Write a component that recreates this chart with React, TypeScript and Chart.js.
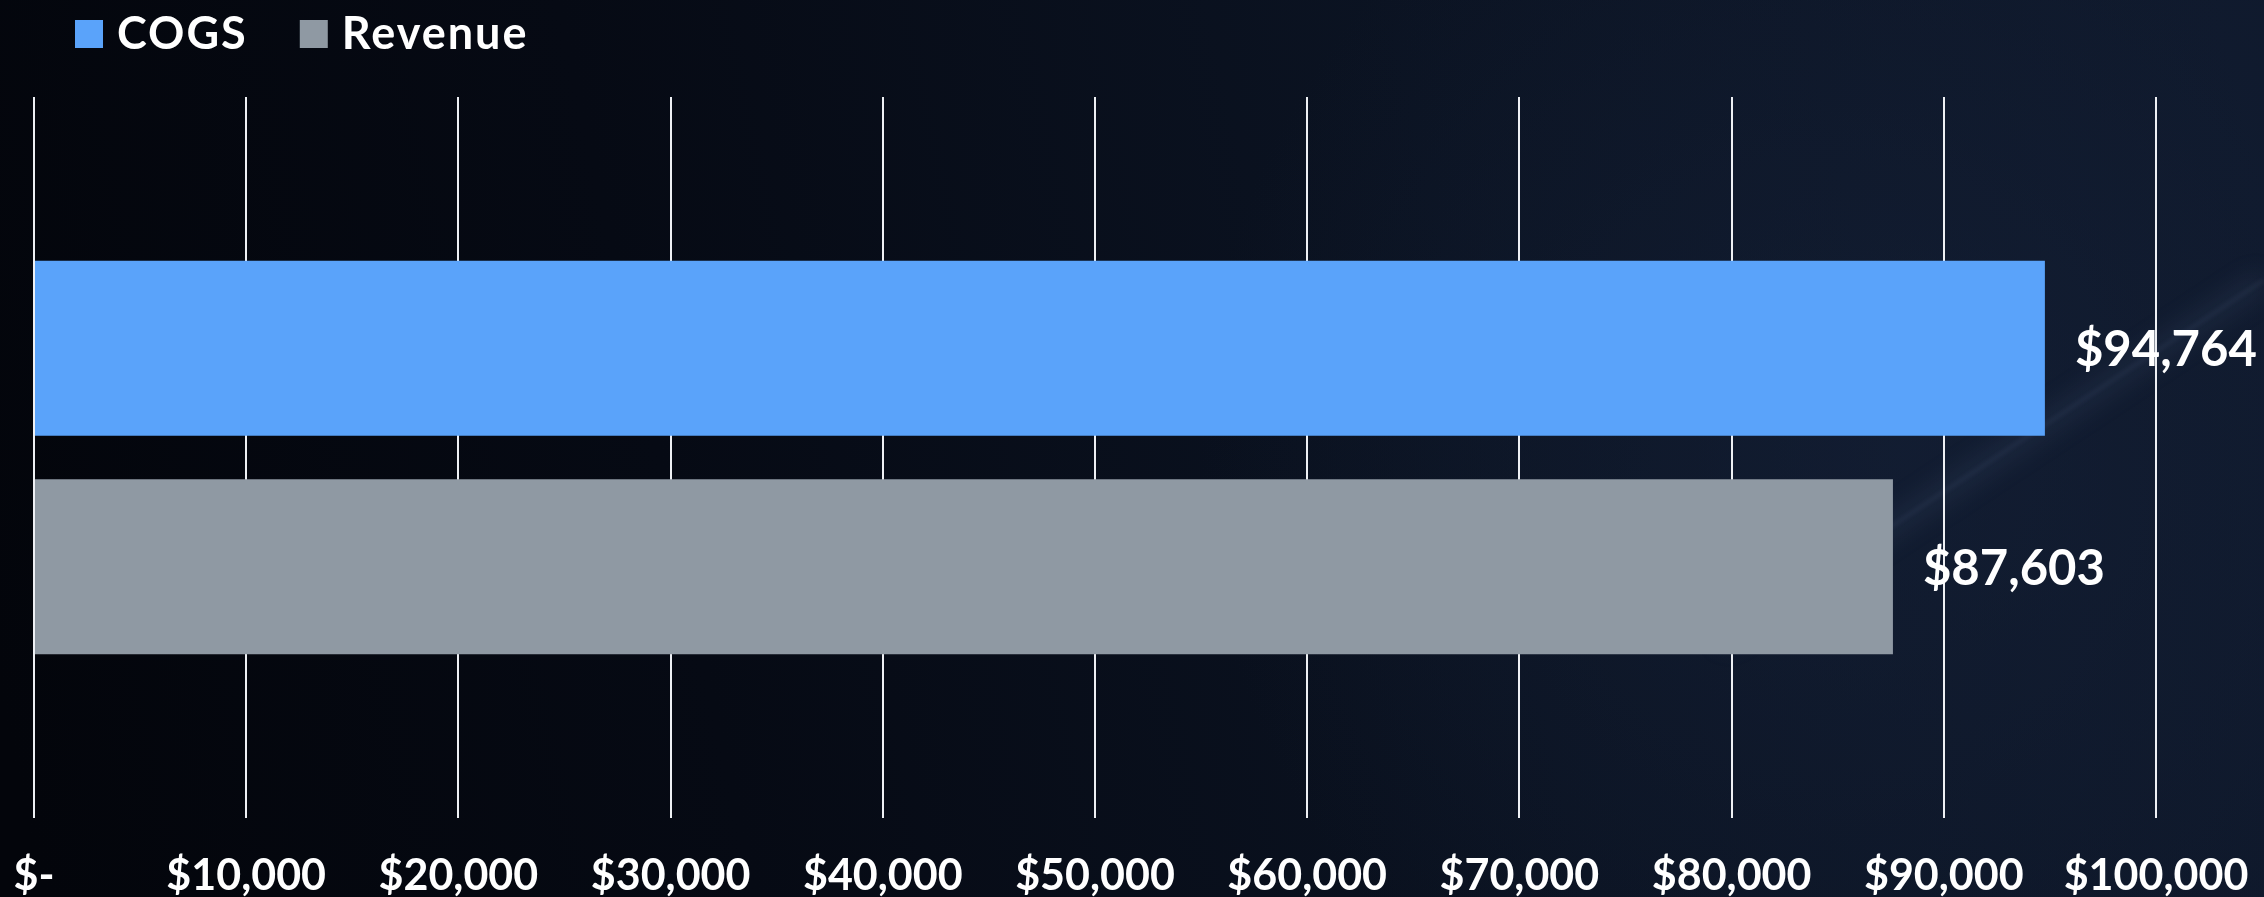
import React, { useEffect, useRef } from "react";
import { Chart, registerables } from "chart.js";

Chart.register(...registerables);

const categories = ["Total"];
const seriesNames = ["COGS", "Revenue"];
const cogsValues = [94764];
const revenueValues = [87603];
const seriesColors = ["#5aa3fa", "#8f99a3"];
const tickValues = [0, 10000, 20000, 30000, 40000, 50000, 60000, 70000, 80000, 90000, 100000];

const W = 2264;
const H = 897;
const FONT = "Lato, 'Open Sans', sans-serif";

function fmtMoney(v: number): string {
  if (v === 0) return "$-";
  return "$" + v.toLocaleString("en-US");
}

const backgroundPlugin = {
  id: "bg",
  beforeDraw(chart: any) {
    const ctx = chart.ctx as CanvasRenderingContext2D;
    ctx.save();
    const g = ctx.createLinearGradient(0, 700, W, 200);
    g.addColorStop(0, "#03050b");
    g.addColorStop(0.3, "#060a14");
    g.addColorStop(0.65, "#0b1322");
    g.addColorStop(1, "#0f192c");
    ctx.fillStyle = g;
    ctx.fillRect(0, 0, W, H);
    const r = ctx.createRadialGradient(1900, 450, 0, 1900, 450, 700);
    r.addColorStop(0, "rgba(22,34,58,0.55)");
    r.addColorStop(1, "rgba(22,34,58,0)");
    ctx.fillStyle = r;
    ctx.fillRect(0, 0, W, H);
    // faint diagonal streak
    ctx.filter = "blur(12px)";
    ctx.strokeStyle = "rgba(110,130,170,0.13)";
    ctx.lineWidth = 20;
    ctx.beginPath();
    ctx.moveTo(1720, 640);
    ctx.lineTo(2264, 280);
    ctx.stroke();
    ctx.filter = "blur(2px)";
    ctx.strokeStyle = "rgba(150,165,200,0.10)";
    ctx.lineWidth = 3;
    ctx.beginPath();
    ctx.moveTo(1780, 600);
    ctx.lineTo(2264, 280);
    ctx.stroke();
    ctx.filter = "none";
    ctx.restore();
  },
};

const legendPlugin = {
  id: "customLegend",
  afterDraw(chart: any) {
    const ctx = chart.ctx as CanvasRenderingContext2D;
    ctx.save();
    ctx.font = `bold 45px ${FONT}`;
    (ctx as any).letterSpacing = "2px";
    ctx.textBaseline = "middle";
    ctx.textAlign = "left";
    let x = 75;
    const boxY = 20;
    const box = 28;
    chart.data.datasets.forEach((ds: any) => {
      ctx.fillStyle = ds.backgroundColor;
      ctx.fillRect(x, boxY, box, box);
      x += box + 14;
      ctx.fillStyle = "#ffffff";
      ctx.fillText(ds.label, x, 34);
      x += ctx.measureText(ds.label).width + 52;
    });
    ctx.restore();
  },
};

const dataLabelPlugin = {
  id: "dataLabels",
  afterDatasetsDraw(chart: any) {
    const ctx = chart.ctx as CanvasRenderingContext2D;
    ctx.save();
    ctx.font = `bold 49px ${FONT}`;
    ctx.fillStyle = "#ffffff";
    ctx.textBaseline = "middle";
    ctx.textAlign = "left";
    chart.data.datasets.forEach((ds: any, i: number) => {
      const meta = chart.getDatasetMeta(i);
      meta.data.forEach((el: any, j: number) => {
        ctx.fillText(fmtMoney(ds.data[j]), el.x + 30, el.y + 2);
      });
    });
    ctx.restore();
  },
};

export default function App() {
  const ref = useRef<HTMLCanvasElement | null>(null);
  useEffect(() => {
    if (!ref.current) return;
    const chart = new Chart(ref.current, {
      type: "bar",
      data: {
        labels: categories,
        datasets: [
          { label: seriesNames[0], data: cogsValues, backgroundColor: seriesColors[0], borderWidth: 0 },
          { label: seriesNames[1], data: revenueValues, backgroundColor: seriesColors[1], borderWidth: 0 },
        ],
      },
      options: {
        indexAxis: "y",
        animation: false,
        responsive: false,
        maintainAspectRatio: false,
        devicePixelRatio: 1,
        datasets: { bar: { categoryPercentage: 0.606, barPercentage: 0.802 } },
        layout: { padding: { left: 34, right: 108, top: 97, bottom: 0 } },
        plugins: { legend: { display: false }, tooltip: { enabled: false } },
        scales: {
          x: {
            type: "linear",
            min: 0,
            max: 100000,
            afterBuildTicks: (scale: any) => {
              scale.ticks = tickValues.map((v) => ({ value: v }));
            },
            afterFit: (scale: any) => {
              scale.height = 79;
            },
            grid: {
              color: "#eef0f4",
              lineWidth: 2,
              drawTicks: true,
              tickLength: 32,
              tickColor: "rgba(0,0,0,0)",
            },
            border: { display: false },
            ticks: {
              color: "#ffffff",
              font: { family: FONT, size: 43, weight: "bold", lineHeight: 1.1 },
              padding: 2,
              maxRotation: 0,
              autoSkip: false,
              callback: (v: any) => fmtMoney(Number(v)),
            },
          },
          y: { display: false },
        },
      },
      plugins: [backgroundPlugin, legendPlugin, dataLabelPlugin],
    } as any);
    return () => chart.destroy();
  }, []);
  return (
    <canvas
      ref={ref}
      width={W}
      height={H}
      style={{ position: "absolute", left: 0, top: 0, width: W, height: H, display: "block" }}
    />
  );
}
